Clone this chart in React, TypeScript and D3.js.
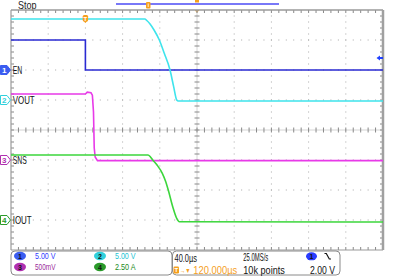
import React from "react";
import * as d3 from "d3";

// ---- data (time in µs, values in channel units) ----
const enTime = [-80, 0, 0, 320];
const enVolts = [5.0, 5.0, 0.0, 0.0];

const voutTime = [-80, 64, 66, 69.5, 73.8, 79.5, 84.8, 91, 94.9, 98.2, 99.9, 320];
const voutVolts = [13.5, 13.5, 13.25, 12.67, 11.67, 10, 7.78, 5, 2.22, 0, -0.17, -0.17];

const snsTime = [-80, 0, 2, 6, 7.5, 8.7, 9.5, 10.5, 13, 320];
const snsVolts = [1.1, 1.1, 1.13, 1.12, 1.08, 0.8, 0.2, 0.05, -0.01, -0.01];

const ioutTime = [-80, 67.3, 70, 72.4, 77, 82.7, 86.1, 89.1, 93.9, 98.2, 101, 320];
const ioutAmps = [5.42, 5.42, 5.25, 5.0, 4.58, 3.89, 3.25, 2.5, 1.11, 0.14, -0.14, -0.17];

const channelNames = ["EN", "VOUT", "SNS", "IOUT"];
const channelScales = [5, 5, 0.5, 2.5]; // units per division
const channelOffsets = [2, 1, -1, -3]; // ground position in divisions from centre
const channelReadouts = ["5.00 V", "5.00 V", "500mV", "2.50 A"];

const timeDomain = [-80, 320];
const divDomain = [-4, 4];

const traceColors = ["#2a2ad2", "#3ee4ec", "#e83ae8", "#3cd63c"];
const markColors = ["#3a5cf0", "#30d0dc", "#b030b0", "#2a9a2a"];
const readColors = ["#3040ff", "#20c4d4", "#9a2a9a", "#208a20"];
const orange = "#f5a01e";
const FONT = "'Liberation Sans', Arial, sans-serif";

const L = 11, R = 383, T = 10, B = 250;

export default function App() {
  const x = d3.scaleLinear().domain(timeDomain).range([L, R]);
  const yDiv = d3.scaleLinear().domain(divDomain).range([B, T]);
  const chY = (ch: number) => (v: number) => yDiv(channelOffsets[ch] + v / channelScales[ch]);

  const series = [
    { t: enTime, v: enVolts, curve: d3.curveLinear },
    { t: voutTime, v: voutVolts, curve: d3.curveMonotoneX },
    { t: snsTime, v: snsVolts, curve: d3.curveLinear },
    { t: ioutTime, v: ioutAmps, curve: d3.curveMonotoneX },
  ];

  const divW = (R - L) / 10;
  const divH = (B - T) / 8;
  const minorW = divW / 5;
  const minorH = divH / 5;

  const dots: JSX.Element[] = [];
  for (let i = 1; i < 10; i++) {
    if (i === 5) continue;
    const gx = L + i * divW;
    for (let k = 1; k < 40; k++) {
      dots.push(<rect key={`v${i}-${k}`} x={gx - 0.5} y={T + k * minorH - 0.5} width={1} height={1} fill="#a8a8a8" />);
    }
  }
  for (let j = 1; j < 8; j++) {
    if (j === 4) continue;
    const gy = T + j * divH;
    for (let k = 1; k < 50; k++) {
      dots.push(<rect key={`h${j}-${k}`} x={L + k * minorW - 0.5} y={gy - 0.5} width={1} height={1} fill="#a8a8a8" />);
    }
  }
  const ticks: JSX.Element[] = [];
  const cx = L + 5 * divW, cy = T + 4 * divH;
  for (let k = 1; k < 50; k++) {
    const tx = L + k * minorW;
    ticks.push(<line key={`ct${k}`} x1={tx} x2={tx} y1={cy - 2.5} y2={cy + 2.5} stroke="#888" />);
    ticks.push(<line key={`tt${k}`} x1={tx} x2={tx} y1={T} y2={T + 3} stroke="#888" />);
    ticks.push(<line key={`bt${k}`} x1={tx} x2={tx} y1={B} y2={B - 3} stroke="#888" />);
  }
  for (let k = 1; k < 40; k++) {
    const ty = T + k * minorH;
    ticks.push(<line key={`cv${k}`} y1={ty} y2={ty} x1={cx - 2.5} x2={cx + 2.5} stroke="#888" />);
    ticks.push(<line key={`lv${k}`} y1={ty} y2={ty} x1={L} x2={L + 3} stroke="#888" />);
    ticks.push(<line key={`rv${k}`} y1={ty} y2={ty} x1={R} x2={R - 3} stroke="#888" />);
  }

  const trigX = x(0);
  const lvl = chY(0)(2);

  return (
    <svg width={397} height={276} style={{ position: "fixed", left: 0, top: 0, background: "#fff" }} fontFamily={FONT}>
      <rect width={397} height={276} fill="#fff" />
      {/* top status */}
      <text x={18} y={8.8} fontSize={10.5} textLength={18.5} lengthAdjust="spacingAndGlyphs" fill="#222">Stop</text>
      <line x1={116} x2={279} y1={4} y2={4} stroke="#7878f8" strokeWidth={2} />
      <rect x={146} y={2} width={4.5} height={6.5} rx={1} fill={orange} />
      <line x1={148.2} x2={148.2} y1={3.5} y2={7} stroke="#fff" strokeWidth={0.8} />
      <rect x={195} y={0} width={4} height={2.5} fill={orange} />
      <path d={`M${cx - 2.2},${T} L${cx + 2.2},${T} L${cx},${T + 3} Z`} fill={orange} />

      {/* graticule */}
      {dots}
      <line x1={L} x2={R} y1={cy} y2={cy} stroke="#d4d4d4" />
      <line x1={cx} x2={cx} y1={T} y2={B} stroke="#d4d4d4" />
      {ticks}
      <line x1={L} x2={R} y1={T} y2={T} stroke="#9a9a9a" strokeWidth={1.5} />
      <line x1={L} x2={R} y1={B} y2={B} stroke="#9a9a9a" strokeWidth={1.2} />
      <line x1={L} x2={L} y1={T} y2={B} stroke="#9a9a9a" strokeWidth={1.2} />
      <line x1={R} x2={R} y1={T} y2={B} stroke="#a0a0a0" strokeWidth={2.5} />

      {/* traces */}
      {series.map((s, ch) => {
        const pts = s.t.map((t, i) => [t, s.v[i]] as [number, number]);
        const line = d3.line<[number, number]>().x((d) => x(d[0])).y((d) => chY(ch)(d[1])).curve(s.curve);
        return <path key={ch} d={line(pts) || ""} fill="none" stroke={traceColors[ch]} strokeWidth={1.6} />;
      })}

      {/* trigger marker */}
      <rect x={trigX - 2.7} y={15} width={5.4} height={6.5} rx={1.5} fill={orange} />
      <path d={`M${trigX - 1.8},21 L${trigX + 1.8},21 L${trigX},23 Z`} fill={orange} />
      <text x={trigX} y={20.5} fontSize={6} fontWeight="bold" fill="#fff" textAnchor="middle">T</text>

      {/* trigger level arrow */}
      <path d={`M376.5,${lvl} L380,${lvl - 2.6} L380,${lvl - 0.9} L383,${lvl - 0.9} L383,${lvl + 0.9} L380,${lvl + 0.9} L380,${lvl + 2.6} Z`} fill="#2040ff" />

      {/* ground markers + labels */}
      {channelNames.map((name, ch) => {
        const gy = chY(ch)(0);
        const filled = ch === 0;
        return (
          <g key={name}>
            <path d={`M0.5,${gy - 4.5} L7,${gy - 4.5} L10.5,${gy} L7,${gy + 4.5} L0.5,${gy + 4.5} Z`}
              fill={filled ? markColors[0] : "#fff"} stroke={markColors[ch]} strokeWidth={1} />
            <text x={4.3} y={gy + 3} fontSize={8} fontWeight="bold" textAnchor="middle" fill={filled ? "#fff" : markColors[ch]}>{ch + 1}</text>
            <text x={12.7} y={gy + 3.8} fontSize={10.5} fill="#111"
              textLength={[9.5, 22, 14, 19][ch]} lengthAdjust="spacingAndGlyphs">{name}</text>
          </g>
        );
      })}

      {/* bottom readouts */}
      <rect x={11} y={251} width={161} height={24} rx={4} fill="#fff" stroke="#8a8a8a" />
      <rect x={172.5} y={251} width={167.5} height={24} rx={4} fill="#fff" stroke="#8a8a8a" />
      {channelReadouts.map((txt, ch) => {
        const col = ch % 2;
        const row = Math.floor(ch / 2);
        const ex = col === 0 ? 20 : 100;
        const ey = row === 0 ? 256 : 267;
        return (
          <g key={`r${ch}`}>
            <ellipse cx={ex} cy={ey} rx={6} ry={4.2} fill={markColors[ch]} />
            <text x={ex} y={ey + 2.6} fontSize={7} fontWeight="bold" textAnchor="middle" fill="#111">{ch + 1}</text>
            <text x={ex + 15} y={ey + 3.4} fontSize={9.5} fill={readColors[ch]} textLength={20.5} lengthAdjust="spacingAndGlyphs">{txt}</text>
          </g>
        );
      })}
      <text x={174.5} y={261.5} fontSize={10.5} fill="#111" textLength={22.5} lengthAdjust="spacingAndGlyphs">40.0µs</text>
      <rect x={173.5} y={266.5} width={5.5} height={7} rx={1.2} fill={orange} />
      <text x={176.25} y={272.3} fontSize={6} fontWeight="bold" fill="#fff" textAnchor="middle">T</text>
      <text x={180} y={272.5} fontSize={7} fill={orange} textLength={10.5} lengthAdjust="spacingAndGlyphs">→▼</text>
      <text x={193.3} y={273.5} fontSize={10.5} fill={orange} textLength={44} lengthAdjust="spacingAndGlyphs">120.000µs</text>
      <text x={243.3} y={261} fontSize={10.5} fill="#111" textLength={25} lengthAdjust="spacingAndGlyphs">25.0MS/s</text>
      <text x={243.3} y={273.5} fontSize={10.5} fill="#111" textLength={41.5} lengthAdjust="spacingAndGlyphs">10k points</text>
      <ellipse cx={311.5} cy={256.3} rx={5.5} ry={4} fill="#2a3cff" />
      <text x={311.5} y={258.8} fontSize={7} fontWeight="bold" textAnchor="middle" fill="#111">1</text>
      <path d="M324.5,253.5 H326.3 L329.3,259 H331" fill="none" stroke="#111" strokeWidth={1.2} />
      <text x={310} y={274} fontSize={10.5} fill="#111" textLength={25} lengthAdjust="spacingAndGlyphs">2.00 V</text>
    </svg>
  );
}
